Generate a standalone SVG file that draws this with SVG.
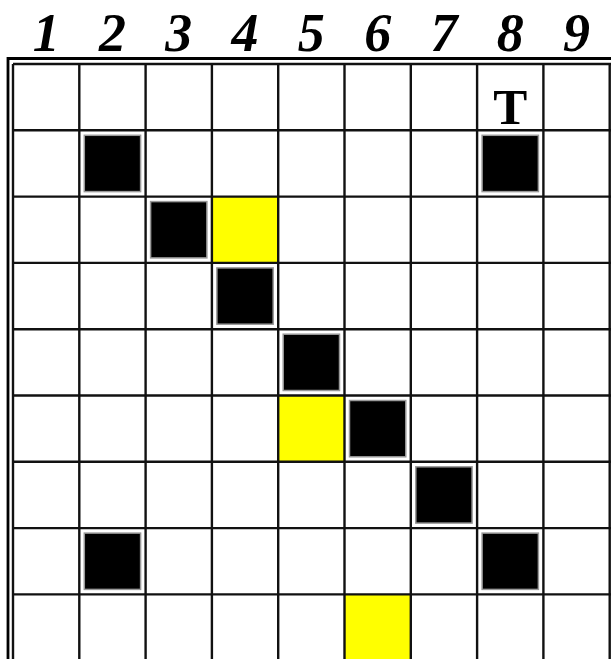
<svg xmlns="http://www.w3.org/2000/svg" width="611" height="659" viewBox="0 0 611 659">
<style>
.num{font-family:"Liberation Serif","Times New Roman",serif;font-weight:bold;font-style:italic;font-size:54px;text-anchor:middle;fill:#000}
.t{font-family:"Liberation Serif","Times New Roman",serif;font-weight:bold;font-size:51px;text-anchor:middle;fill:#000}
.blk{fill:#000;stroke:#999;stroke-width:1.5}
.yel{fill:#ffff00;stroke:none}
.grid line{stroke:#111;stroke-width:2.4}
.border{stroke:#000;stroke-width:2.8}
</style>
<rect width="611" height="659" fill="#fff"/>
<g id="header">
<text class="num" x="46.15" y="51">1</text>
<text class="num" x="112.45" y="51">2</text>
<text class="num" x="178.75" y="51">3</text>
<text class="num" x="245.05" y="51">4</text>
<text class="num" x="311.35" y="51">5</text>
<text class="num" x="377.65" y="51">6</text>
<text class="num" x="443.95" y="51">7</text>
<text class="num" x="510.25" y="51">8</text>
<text class="num" x="576.55" y="51">9</text>
</g>
<g id="yellow-cells">
<rect class="yel" x="211.9" y="196.6" width="66.3" height="66.3"/>
<rect class="yel" x="278.2" y="395.5" width="66.3" height="66.3"/>
<rect class="yel" x="344.5" y="594.4" width="66.3" height="66.3"/>
</g>
<g class="grid" id="grid">
<line x1="13" y1="64" x2="13" y2="659"/>
<line x1="79.3" y1="64" x2="79.3" y2="659"/>
<line x1="145.6" y1="64" x2="145.6" y2="659"/>
<line x1="211.9" y1="64" x2="211.9" y2="659"/>
<line x1="278.2" y1="64" x2="278.2" y2="659"/>
<line x1="344.5" y1="64" x2="344.5" y2="659"/>
<line x1="410.8" y1="64" x2="410.8" y2="659"/>
<line x1="477.1" y1="64" x2="477.1" y2="659"/>
<line x1="543.4" y1="64" x2="543.4" y2="659"/>
<line x1="609.7" y1="64" x2="609.7" y2="659"/>
<line x1="13" y1="64" x2="611" y2="64"/>
<line x1="13" y1="130.3" x2="611" y2="130.3"/>
<line x1="13" y1="196.6" x2="611" y2="196.6"/>
<line x1="13" y1="262.9" x2="611" y2="262.9"/>
<line x1="13" y1="329.2" x2="611" y2="329.2"/>
<line x1="13" y1="395.5" x2="611" y2="395.5"/>
<line x1="13" y1="461.8" x2="611" y2="461.8"/>
<line x1="13" y1="528.1" x2="611" y2="528.1"/>
<line x1="13" y1="594.4" x2="611" y2="594.4"/>
</g>
<g id="outer-border">
<line class="border" x1="8" y1="58.5" x2="611" y2="58.5"/>
<line class="border" x1="8" y1="57.1" x2="8" y2="659"/>
</g>
<g id="black-cells">
<rect class="blk" x="84.3" y="135.3" width="56.3" height="56.3"/>
<rect class="blk" x="482.1" y="135.3" width="56.3" height="56.3"/>
<rect class="blk" x="150.6" y="201.6" width="56.3" height="56.3"/>
<rect class="blk" x="216.9" y="267.9" width="56.3" height="56.3"/>
<rect class="blk" x="283.2" y="334.2" width="56.3" height="56.3"/>
<rect class="blk" x="349.5" y="400.5" width="56.3" height="56.3"/>
<rect class="blk" x="415.8" y="466.8" width="56.3" height="56.3"/>
<rect class="blk" x="84.3" y="533.1" width="56.3" height="56.3"/>
<rect class="blk" x="482.1" y="533.1" width="56.3" height="56.3"/>
</g>
<g id="target">
<text class="t" x="510.25" y="124">T</text>
</g>
</svg>
